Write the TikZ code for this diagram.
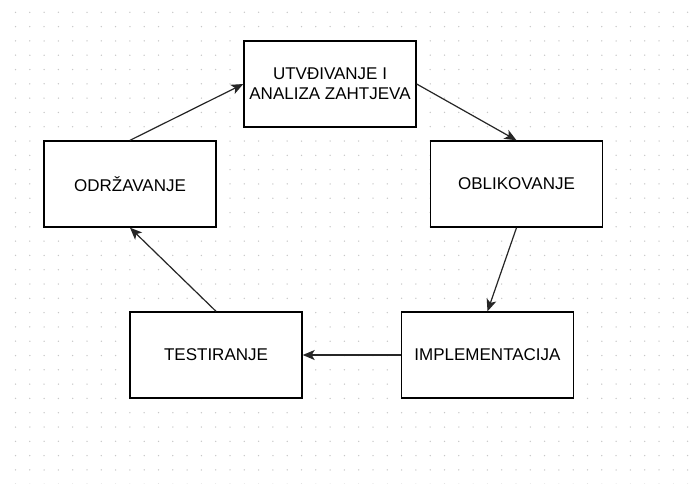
\documentclass[tikz,border=0pt]{standalone}
\usepackage{fontspec}
\setmainfont{Liberation Sans}
\usetikzlibrary{arrows.meta}
\begin{document}
\begin{tikzpicture}[x=1pt,y=-1pt,
  box/.style={draw=black, line width=1.4pt, fill=white, minimum width=172pt, minimum height=86pt, inner sep=0pt, font=\fontsize{17}{20}\selectfont, align=center},
  conn/.style={line width=1.2pt, draw=black!85, -{Stealth[length=12pt,width=10pt,inset=3pt]}},
  griddot/.style={fill=black!22}]
\useasboundingbox (0,0) rectangle (695,483);
\fill[white] (0,0) rectangle (695,483);
\foreach \i in {0,...,47} \foreach \j in {0,...,33} \fill[griddot] (15.5+14.3*\i, 12.3+14.3*\j) circle (0.75pt);
\node[box] (utv) at (330,84) {UTVĐIVANJE I\\ANALIZA ZAHTJEVA};
\node[box] (obl) at (516.5,184) {OBLIKOVANJE};
\node[box] (odr) at (130,184) {ODRŽAVANJE};
\node[box] (imp) at (487.5,355) {IMPLEMENTACIJA};
\node[box] (tes) at (216,355) {TESTIRANJE};
\draw[conn] (odr.north) -- (utv.west);
\draw[conn] (utv.east) -- (obl.north);
\draw[conn] (obl.south) -- (imp.north);
\draw[conn] (imp.west) -- (tes.east);
\draw[conn] (tes.north) -- (odr.south);
\end{tikzpicture}
\end{document}
